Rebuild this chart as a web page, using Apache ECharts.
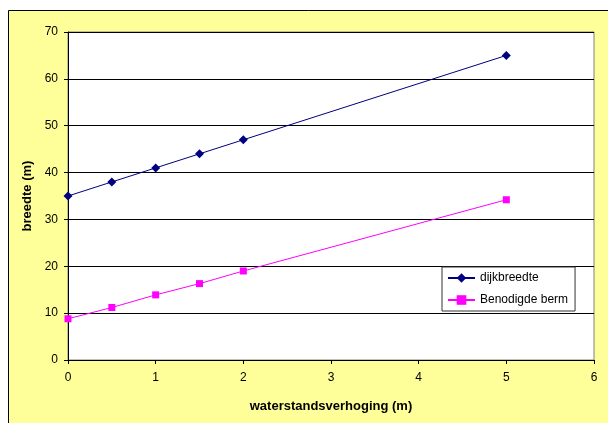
<!DOCTYPE html>
<html>
<head>
<meta charset="utf-8">
<script src="https://cdn.jsdelivr.net/npm/echarts@6/dist/echarts.min.js"></script>
<style>
  html, body { margin: 0; padding: 0; background: #ffffff; }
  #chart { width: 608px; height: 423px; }
</style>
</head>
<body>
<div id="chart"></div>
<script>
// Waterstandsverhoging (m) tegen benodigde breedte (m)
const xValues = [0, 0.5, 1, 1.5, 2, 5];
const dijkbreedte = [35, 38, 41, 44, 47, 65];
const benodigdeBerm = [8.8, 11.2, 13.9, 16.3, 19, 34.2];
const seriesNames = ['dijkbreedte', 'Benodigde berm'];

const pairs = (ys) => xValues.map((x, i) => [x, ys[i]]);
const font = '"Liberation Sans", Arial, sans-serif';

const chart = echarts.init(document.getElementById('chart'), null, { renderer: 'canvas' });
chart.setOption({
  animation: false,
  backgroundColor: '#ffffff',
  textStyle: { fontFamily: font },
  graphic: [{
    type: 'rect',
    silent: true,
    z: -10,
    shape: { x: 8.5, y: 10.5, width: 620, height: 430 },
    style: { fill: '#FFFF99', stroke: '#000000', lineWidth: 1 }
  }],
  grid: {
    left: 68, top: 32, right: 14, bottom: 63,
    show: true,
    backgroundColor: '#ffffff',
    borderColor: '#808080',
    borderWidth: 1
  },
  legend: {
    left: 442, top: 267,
    orient: 'vertical',
    backgroundColor: '#ffffff',
    borderColor: '#333333',
    borderWidth: 1,
    borderRadius: 0,
    padding: [5, 7, 5, 5],
    itemWidth: 27,
    itemHeight: 12,
    itemGap: 10,
    textStyle: { fontFamily: font, fontSize: 12, color: '#000000' },
    data: seriesNames
  },
  xAxis: {
    type: 'value',
    min: 0, max: 6, interval: 1,
    name: 'waterstandsverhoging (m)',
    nameLocation: 'middle',
    nameGap: 40,
    nameTextStyle: { fontFamily: font, fontSize: 13, fontWeight: 'bold', color: '#000000' },
    axisLine: { show: true, onZero: false, lineStyle: { color: '#000000', width: 1 } },
    axisTick: { show: true, inside: false, length: 4, lineStyle: { color: '#000000' } },
    axisLabel: { margin: 12, fontFamily: font, fontSize: 12, color: '#000000' },
    splitLine: { show: false }
  },
  yAxis: {
    type: 'value',
    min: 0, max: 70, interval: 10,
    name: 'breedte (m)',
    nameLocation: 'middle',
    nameRotate: 90,
    nameGap: 31,
    nameTextStyle: { fontFamily: font, fontSize: 13, fontWeight: 'bold', color: '#000000' },
    axisLine: { show: true, lineStyle: { color: '#000000', width: 1 } },
    axisTick: { show: true, inside: false, length: 4, lineStyle: { color: '#000000' } },
    axisLabel: { margin: 10, fontFamily: font, fontSize: 12, color: '#000000' },
    splitLine: { show: true, lineStyle: { color: '#000000', width: 1 } }
  },
  series: [
    {
      name: seriesNames[0],
      type: 'line',
      data: pairs(dijkbreedte),
      symbol: 'diamond',
      symbolSize: 9,
      lineStyle: { color: '#000080', width: 1 },
      itemStyle: { color: '#000080' }
    },
    {
      name: seriesNames[1],
      type: 'line',
      data: pairs(benodigdeBerm),
      symbol: 'rect',
      symbolSize: 7,
      lineStyle: { color: '#FF00FF', width: 1 },
      itemStyle: { color: '#FF00FF' }
    }
  ]
});
</script>
</body>
</html>
